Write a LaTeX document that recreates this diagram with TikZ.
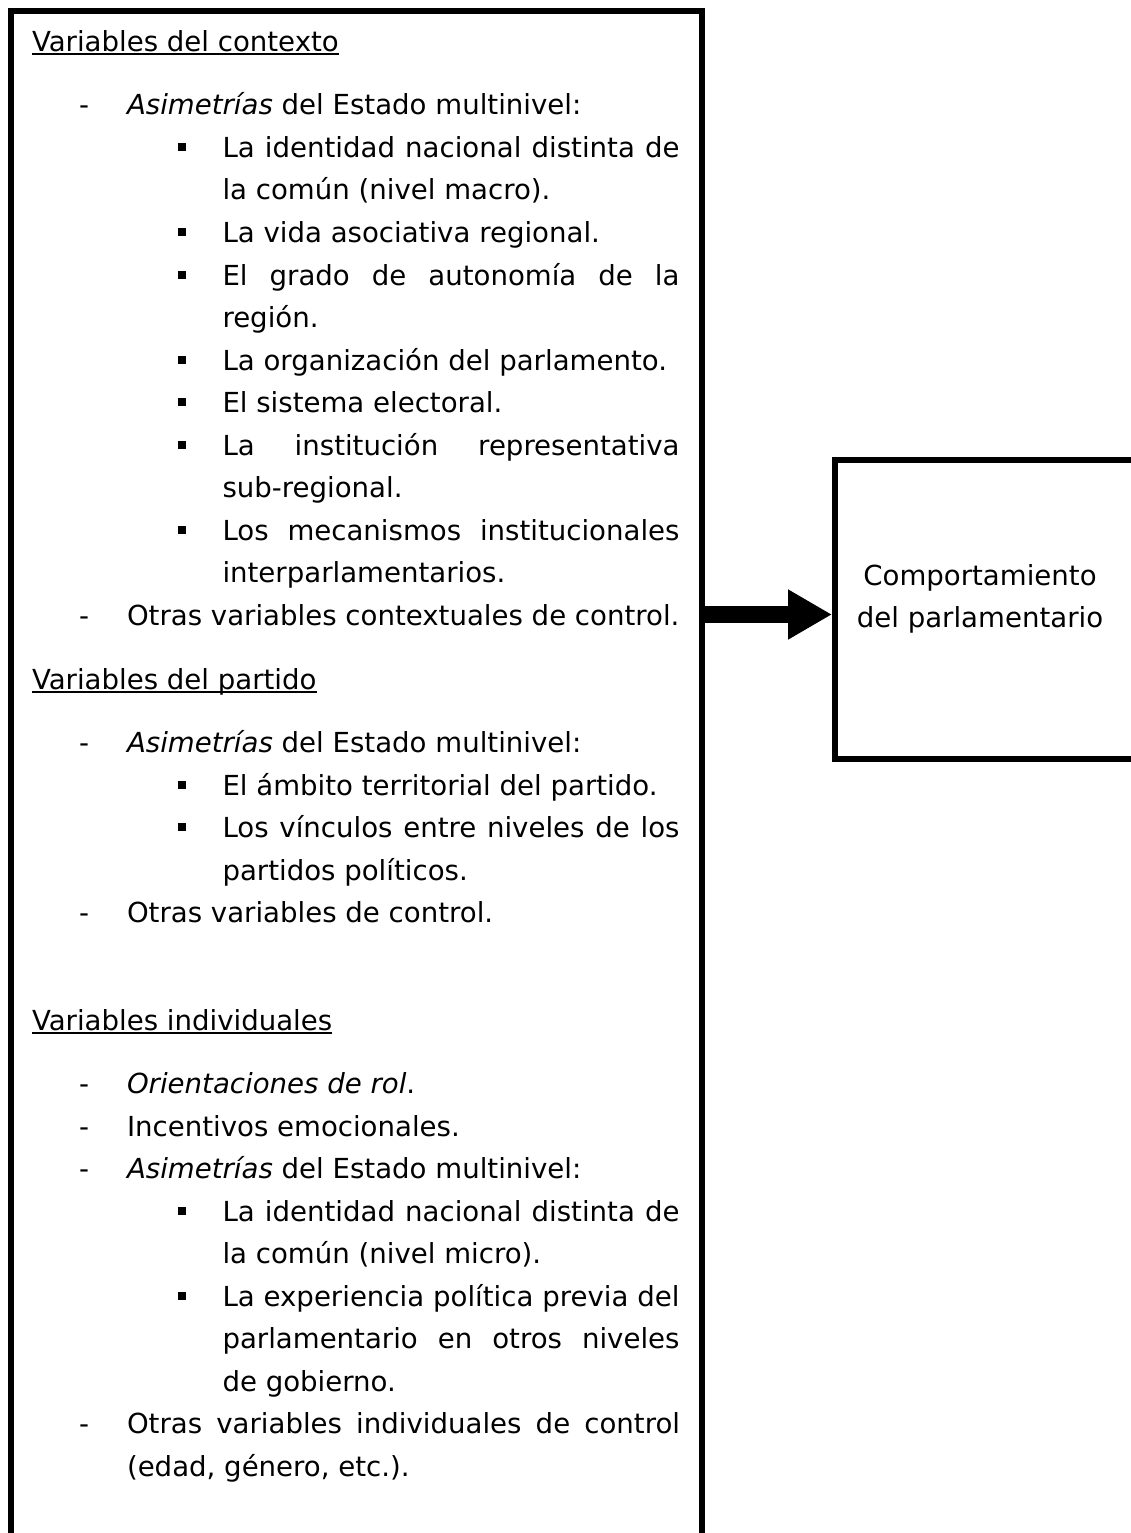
\documentclass[tikz,border=0pt]{standalone}
\usepackage{fontspec}
\setmainfont{DejaVu Sans}
\usetikzlibrary{arrows.meta}

% body text size and justified-line helper
\newcommand\bodyfont{\fontsize{27.6pt}{42.5pt}\selectfont}
\newcommand\jst[2]{\makebox[#1][s]{#2}}

\tikzset{
  txt/.style={anchor=base west, inner sep=0pt, outer sep=0pt, font=\bodyfont},
  ctr/.style={anchor=base, inner sep=0pt, outer sep=0pt, font=\bodyfont},
  sq/.style={fill=black, draw=none, inner sep=0pt, minimum size=8pt},
  ul/.style={line width=2pt},
  frame/.style={draw=black, line width=6pt, inner sep=0pt},
  bigarrow/.style={line width=17pt, -{Triangle[length=44pt,width=47pt]}},
}

\begin{document}
\begin{tikzpicture}[x=1pt, y=-1pt]
  \useasboundingbox (0,0) rectangle (1131,1533);
  \clip (0,0) rectangle (1131,1533);

  % outer frames (both run off the page edge)
  \node[frame, minimum width=691pt, minimum height=1589pt] (lbox) at (356.5,805.5) {};
  \node[frame, minimum width=325pt, minimum height=299pt] (rbox) at (997.5,609.5) {};

  % result box text
  \node[ctr] (r1) at (980,585) {Comportamiento};
  \node[ctr] (r2) at (980,627) {del parlamentario};

  % arrow from the variables to the behaviour
  \coordinate (ay) at (0,614.5);
  \draw[bigarrow] (lbox.east |- ay) -- (rbox.west |- ay);

  % ---- context variables
  \node[txt] (h1) at (32,52) {Variables del contexto};
  \draw[ul] ([yshift=-2.5pt]h1.base west) -- ([yshift=-2.5pt]h1.base east);

  \node[txt] (d1) at (79,115) {-};
  \node[txt] (t1) at (127,115) {\textit{Asimetrías} del Estado multinivel:};
  \node[sq] (b2) at (181.5,147) {};
  \node[txt] (t2) at (222.5,157.5) {\jst{457pt}{La identidad nacional distinta de}};
  \node[txt] (t3) at (222.5,200) {la común (nivel macro).};
  \node[sq] (b4) at (181.5,232) {};
  \node[txt] (t4) at (222.5,242.5) {La vida asociativa regional.};
  \node[sq] (b5) at (181.5,274.5) {};
  \node[txt] (t5) at (222.5,285) {\jst{457pt}{El grado de autonomía de la}};
  \node[txt] (t6) at (222.5,327.5) {región.};
  \node[sq] (b7) at (181.5,359.5) {};
  \node[txt] (t7) at (222.5,370) {La organización del parlamento.};
  \node[sq] (b8) at (181.5,402) {};
  \node[txt] (t8) at (222.5,412.5) {El sistema electoral.};
  \node[sq] (b9) at (181.5,444.5) {};
  \node[txt] (t9) at (222.5,455) {\jst{457pt}{La institución representativa}};
  \node[txt] (t10) at (222.5,497.5) {sub-regional.};
  \node[sq] (b11) at (181.5,529.5) {};
  \node[txt] (t11) at (222.5,540) {\jst{457pt}{Los mecanismos institucionales}};
  \node[txt] (t12) at (222.5,582.5) {interparlamentarios.};
  \node[txt] (d13) at (79,625) {-};
  \node[txt] (t13) at (127,625) {Otras variables contextuales de control.};

  % ---- party variables
  \node[txt] (h2) at (32,689.5) {Variables del partido};
  \draw[ul] ([yshift=-2.5pt]h2.base west) -- ([yshift=-2.5pt]h2.base east);

  \node[txt] (d14) at (79,752.5) {-};
  \node[txt] (t14) at (127,752.5) {\textit{Asimetrías} del Estado multinivel:};
  \node[sq] (b15) at (181.5,784.5) {};
  \node[txt] (t15) at (222.5,795) {El ámbito territorial del partido.};
  \node[sq] (b16) at (181.5,827) {};
  \node[txt] (t16) at (222.5,837.5) {\jst{457pt}{Los vínculos entre niveles de los}};
  \node[txt] (t17) at (222.5,880) {partidos políticos.};
  \node[txt] (d18) at (79,922.5) {-};
  \node[txt] (t18) at (127,922.5) {Otras variables de control.};

  % ---- individual variables
  \node[txt] (h3) at (32,1030.5) {Variables individuales};
  \draw[ul] ([yshift=-2.5pt]h3.base west) -- ([yshift=-2.5pt]h3.base east);

  \node[txt] (d19) at (79,1093.5) {-};
  \node[txt] (t19) at (127,1093.5) {\textit{Orientaciones de rol}.};
  \node[txt] (d20) at (79,1136) {-};
  \node[txt] (t20) at (127,1136) {Incentivos emocionales.};
  \node[txt] (d21) at (79,1178.5) {-};
  \node[txt] (t21) at (127,1178.5) {\textit{Asimetrías} del Estado multinivel:};
  \node[sq] (b22) at (181.5,1210.5) {};
  \node[txt] (t22) at (222.5,1221) {\jst{457pt}{La identidad nacional distinta de}};
  \node[txt] (t23) at (222.5,1263.5) {la común (nivel micro).};
  \node[sq] (b24) at (181.5,1295.5) {};
  \node[txt] (t24) at (222.5,1306) {\jst{457pt}{La experiencia política previa del}};
  \node[txt] (t25) at (222.5,1348.5) {\jst{457pt}{parlamentario en otros niveles}};
  \node[txt] (t26) at (222.5,1391) {de gobierno.};
  \node[txt] (d27) at (79,1433.5) {-};
  \node[txt] (t27) at (127,1433.5) {\jst{553pt}{Otras variables individuales de control}};
  \node[txt] (t28) at (127,1476) {(edad, género, etc.).};
\end{tikzpicture}
\end{document}
